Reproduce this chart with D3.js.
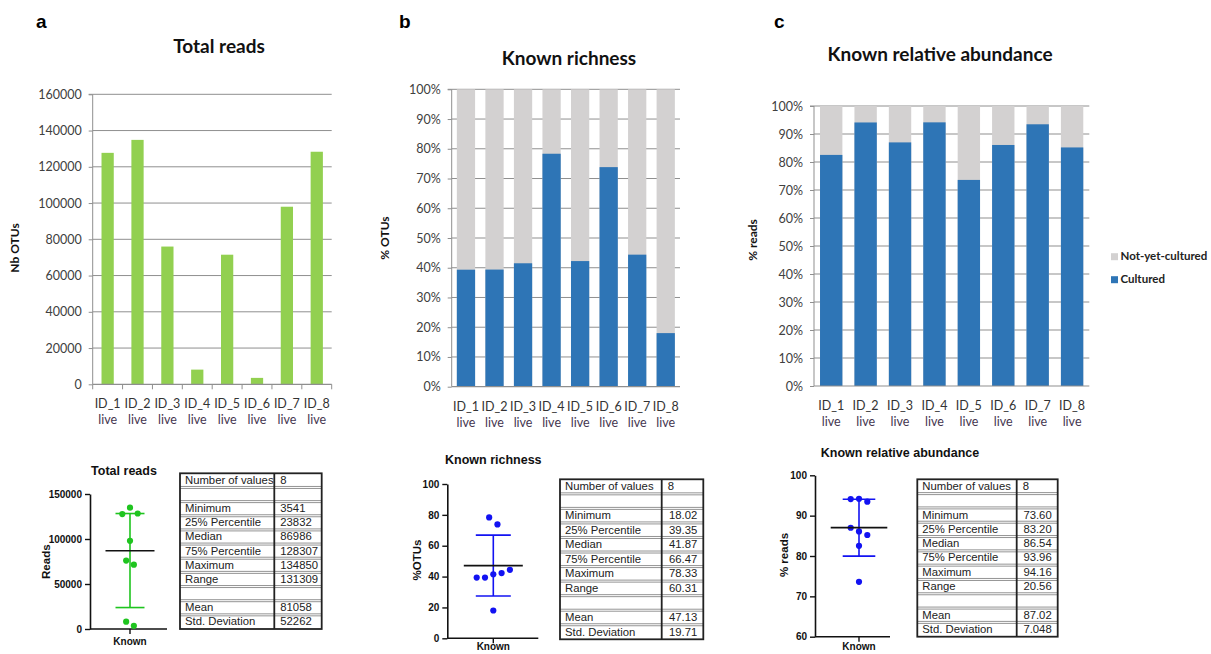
<!DOCTYPE html>
<html><head><meta charset="utf-8">
<script src="https://cdn.jsdelivr.net/npm/d3@7"></script>
<style>body{margin:0;background:#fff}svg{display:block}</style>
</head><body>
<svg id="fig" width="1211" height="654"></svg>
<script>
// ---------------- data ----------------
const categories = ["ID_1","ID_2","ID_3","ID_4","ID_5","ID_6","ID_7","ID_8"];
const subLabel = "live";
const totalReads = [127700,134850,76000,8100,71500,3541,97972,128307];
const richnessCultured = [39.34,39.38,41.5,78.33,42.24,73.83,44.4,18.02];
const abundanceCultured = [82.53,94.12,87.0,94.16,73.60,86.08,93.47,85.2];
const readsTicks = [0,20000,40000,60000,80000,100000,120000,140000,160000];
const pctTicks = [0,10,20,30,40,50,60,70,80,90,100];
const legendLabels = ["Not-yet-cultured","Cultured"];
const panelLetters = ["a","b","c"];
const topTitles = ["Total reads","Known richness","Known relative abundance"];
const topYLabels = ["Nb OTUs","% OTUs","% reads"];
const dotTitles = ["Total reads","Known richness","Known relative abundance"];
const dotYLabels = ["Reads","%OTUs","% reads"];
const dotCategory = "Known";
const dotTicksA = [0,50000,100000,150000];
const dotTicksB = [0,20,40,60,80,100];
const dotTicksC = [60,70,80,90,100];
// centre line and error bar ends (a: median + interquartile range; b, c: mean ± SD)
const summaryA = [86986, 23832, 128307];
const summaryB = [47.13, 47.13-19.71, 47.13+19.71];
const summaryC = [87.02, 87.02-7.048, 87.02+7.048];
const statLabels = ["Number of values","","Minimum","25% Percentile","Median","75% Percentile","Maximum","Range","","Mean","Std. Deviation"];
const statsA = ["8","","3541","23832","86986","128307","134850","131309","","81058","52262"];
const statsB = ["8","","18.02","39.35","41.87","66.47","78.33","60.31","","47.13","19.71"];
const statsC = ["8","","73.60","83.20","86.54","93.96","94.16","20.56","","87.02","7.048"];

// ---------------- styles ----------------
const GREEN = "#92d050", BLUE = "#2e75b6", GREY = "#d3d1d1", GRID = "#8f8f8f";
const DOT_GREEN = "#1fc41f", DOT_BLUE = "#1212f2";
const TITLE_FONT = "Lato, 'Open Sans', sans-serif";
const ARIAL = "'Liberation Sans', Arial, sans-serif";

const svg = d3.select("#fig");

// panel letters
const letterPos = [[36,28],[399,28],[774,28]];
panelLetters.forEach((l,i)=>{
  svg.append("text").attr("x",letterPos[i][0]).attr("y",letterPos[i][1])
    .attr("font-family",ARIAL).attr("font-weight","bold").attr("font-size",19).attr("fill","#000").text(l);
});

// ---------------- top bar charts ----------------
function barChart(cfg){
  const g = svg.append("g");
  const x = d3.scaleBand().domain(categories).range([cfg.left,cfg.right]).padding(0);
  const y = d3.scaleLinear().domain([0,cfg.max]).range([cfg.bottom,cfg.top]);
  g.selectAll(".grid").data(cfg.ticks.filter(t=>t>0)).join("line")
    .attr("x1",cfg.left).attr("x2",cfg.right).attr("y1",d=>y(d)).attr("y2",d=>y(d))
    .attr("stroke",GRID).attr("stroke-width",1);
  const ax = g.append("g").attr("transform",`translate(${cfg.left},0)`)
    .call(d3.axisLeft(y).tickValues(cfg.ticks).tickSize(4).tickPadding(7).tickFormat(cfg.fmt));
  ax.select(".domain").attr("stroke",GRID).attr("d",`M-4,${cfg.top}H0V${cfg.bottom}`);
  ax.selectAll(".tick line").attr("stroke",GRID);
  ax.selectAll(".tick text").attr("font-family",TITLE_FONT).attr("font-size",12.5).attr("fill","#404040");
  const bw = x.bandwidth()*cfg.barFrac;
  if (cfg.stacked){
    g.selectAll(".bg").data(cfg.values).join("rect")
      .attr("x",(d,i)=>x(categories[i])+(x.bandwidth()-bw)/2).attr("width",bw)
      .attr("y",y(cfg.max)).attr("height",y(0)-y(cfg.max)).attr("fill",GREY);
  }
  g.selectAll(".bar").data(cfg.values).join("rect")
    .attr("x",(d,i)=>x(categories[i])+(x.bandwidth()-bw)/2).attr("width",bw)
    .attr("y",d=>y(d)).attr("height",d=>y(0)-y(d)).attr("fill",cfg.color);
  g.append("line").attr("x1",cfg.left).attr("x2",cfg.right).attr("y1",cfg.bottom).attr("y2",cfg.bottom)
    .attr("stroke",GRID).attr("stroke-width",1.2);
  if (cfg.bottomTicks){
    const bounds = categories.map(c=>x(c)).concat([cfg.right]);
    g.selectAll(".bt").data(bounds).join("line")
      .attr("x1",d=>d).attr("x2",d=>d).attr("y1",cfg.bottom).attr("y2",cfg.bottom+5)
      .attr("stroke",GRID);
  }
  categories.forEach(c=>{
    const cx = x(c)+x.bandwidth()/2;
    g.append("text").attr("x",cx).attr("y",cfg.bottom+21).attr("text-anchor","middle")
      .attr("dominant-baseline","middle").attr("font-family",TITLE_FONT).attr("font-size",12.5)
      .attr("fill","#333").text(c);
    g.append("text").attr("x",cx).attr("y",cfg.bottom+37).attr("text-anchor","middle")
      .attr("dominant-baseline","middle").attr("font-family",TITLE_FONT).attr("font-size",12.5)
      .attr("fill","#45364f").text(subLabel);
  });
  g.append("text").attr("x",cfg.titleX).attr("y",cfg.titleY).attr("text-anchor","middle")
    .attr("dominant-baseline","middle").attr("font-family",TITLE_FONT).attr("font-weight","bold")
    .attr("font-size",19).attr("fill","#111").text(cfg.title);
  g.append("text").attr("transform",`translate(${cfg.ylabX},${cfg.ylabY}) rotate(-90)`)
    .attr("text-anchor","middle").attr("dominant-baseline","middle").attr("font-family",TITLE_FONT)
    .attr("font-weight","bold").attr("font-size",12).attr("fill","#111").text(cfg.ylabel);
  return {x,y};
}

barChart({left:92.7,right:331.7,top:94.3,bottom:384.3,max:160000,ticks:readsTicks,fmt:d=>d,
  values:totalReads,color:GREEN,barFrac:0.41,stacked:false,bottomTicks:true,
  title:topTitles[0],titleX:219,titleY:48,ylabel:topYLabels[0],ylabX:16,ylabY:248});
barChart({left:451.7,right:680,top:89.3,bottom:386.7,max:100,ticks:pctTicks,fmt:d=>d+"%",
  values:richnessCultured,color:BLUE,barFrac:0.64,stacked:true,bottomTicks:false,
  title:topTitles[1],titleX:569,titleY:60,ylabel:topYLabels[1],ylabX:386,ylabY:238});
barChart({left:814,right:1089.3,top:106,bottom:386,max:100,ticks:pctTicks,fmt:d=>d+"%",
  values:abundanceCultured,color:BLUE,barFrac:0.65,stacked:true,bottomTicks:false,
  title:topTitles[2],titleX:940,titleY:56,ylabel:topYLabels[2],ylabX:754,ylabY:240});

// legend (panel c)
const legColors = [GREY, BLUE];
legendLabels.forEach((l,i)=>{
  const cy = 256.7 + i*23;
  svg.append("rect").attr("x",1111).attr("y",cy-3.5).attr("width",7).attr("height",7).attr("fill",legColors[i]);
  svg.append("text").attr("x",1120.5).attr("y",cy).attr("dominant-baseline","middle")
    .attr("font-family",TITLE_FONT).attr("font-weight","bold").attr("font-size",11.5).attr("fill","#222").text(l);
});

// ---------------- dot plots ----------------
function dotPlot(cfg){
  const g = svg.append("g");
  const y = d3.scaleLinear().domain([cfg.ticks[0],cfg.ticks[cfg.ticks.length-1]]).range([cfg.bottom,cfg.top]);
  const ax = g.append("g").attr("transform",`translate(${cfg.axisX},0)`)
    .call(d3.axisLeft(y).tickValues(cfg.ticks).tickSize(5).tickPadding(3).tickSizeOuter(0).tickFormat(d=>d));
  ax.select(".domain").attr("stroke","#111").attr("stroke-width",1.6);
  ax.selectAll(".tick line").attr("stroke","#111").attr("stroke-width",1.4);
  ax.selectAll(".tick text").attr("font-family",ARIAL).attr("font-weight","bold").attr("font-size",10).attr("fill","#111");
  g.append("line").attr("x1",cfg.axisX).attr("x2",cfg.axisRight).attr("y1",cfg.bottom).attr("y2",cfg.bottom)
    .attr("stroke","#111").attr("stroke-width",1.6);
  g.append("line").attr("x1",cfg.cx).attr("x2",cfg.cx).attr("y1",cfg.bottom).attr("y2",cfg.bottom+5)
    .attr("stroke","#111").attr("stroke-width",1.4);
  g.append("text").attr("x",cfg.cx).attr("y",Math.min(cfg.bottom+13,647.5)).attr("text-anchor","middle")
    .attr("dominant-baseline","middle").attr("font-family",ARIAL).attr("font-weight","bold")
    .attr("font-size",10).attr("fill","#111").text(dotCategory);
  const [c,lo,hi] = cfg.summary;
  g.append("line").attr("x1",cfg.cx).attr("x2",cfg.cx).attr("y1",y(lo)).attr("y2",y(hi))
    .attr("stroke",cfg.color).attr("stroke-width",1.6);
  [lo,hi].forEach(v=>g.append("line").attr("x1",cfg.cx-cfg.capHalf).attr("x2",cfg.cx+cfg.capHalf)
    .attr("y1",y(v)).attr("y2",y(v)).attr("stroke",cfg.color).attr("stroke-width",1.6));
  // beeswarm-like placement: cluster points that overlap vertically, centre each row
  const pts = cfg.values.map((v,i)=>({v,i,py:y(v)}));
  const sorted = pts.slice().sort((a,b)=>a.py-b.py);
  const clusters = [];
  sorted.forEach(p=>{
    const last = clusters[clusters.length-1];
    if (last && p.py - last[last.length-1].py < 7.5) last.push(p); else clusters.push([p]);
  });
  clusters.forEach(cl=>{
    cl.sort((a,b)=>a.i-b.i);
    cl.forEach((p,k)=>{ p.px = cfg.cx + (k-(cl.length-1)/2)*cfg.step; });
  });
  g.selectAll(".dot").data(pts).join("circle")
    .attr("cx",d=>d.px).attr("cy",d=>d.py).attr("r",3.1).attr("fill",cfg.color);
  g.append("line").attr("x1",cfg.cx-cfg.lineHalf).attr("x2",cfg.cx+cfg.lineHalf)
    .attr("y1",y(c)).attr("y2",y(c)).attr("stroke","#111").attr("stroke-width",1.6);
  g.append("text").attr("x",cfg.titleX).attr("y",cfg.titleY).attr("text-anchor","middle")
    .attr("dominant-baseline","middle").attr("font-family",ARIAL).attr("font-weight","bold")
    .attr("font-size",12.5).attr("fill","#111").text(cfg.title);
  g.append("text").attr("transform",`translate(${cfg.ylabX},${cfg.ylabY}) rotate(-90)`)
    .attr("text-anchor","middle").attr("dominant-baseline","middle").attr("font-family",ARIAL)
    .attr("font-weight","bold").attr("font-size",11.5).attr("fill","#111").text(cfg.ylabel);
}

dotPlot({values:totalReads,ticks:dotTicksA,summary:summaryA,color:DOT_GREEN,
  axisX:90,axisRight:167,cx:130,top:494,bottom:629,lineHalf:24.5,capHalf:14.5,step:7.7,
  title:dotTitles[0],titleX:124,titleY:471.7,ylabel:dotYLabels[0],ylabX:46.7,ylabY:561.7});
dotPlot({values:richnessCultured,ticks:dotTicksB,summary:summaryB,color:DOT_BLUE,
  axisX:447.3,axisRight:538.3,cx:493.3,top:484,bottom:638.3,lineHalf:29.5,capHalf:17.5,step:8.3,
  title:dotTitles[1],titleX:493.3,titleY:461,ylabel:dotYLabels[1],ylabX:418.3,ylabY:560});
dotPlot({values:abundanceCultured,ticks:dotTicksC,summary:summaryC,color:DOT_BLUE,
  axisX:815,axisRight:890,cx:859,top:475.3,bottom:636.7,lineHalf:28.3,capHalf:16.3,step:8.3,
  title:dotTitles[2],titleX:900,titleY:454,ylabel:dotYLabels[2],ylabX:785,ylabY:555});

// ---------------- stats tables ----------------
function statTable(cfg){
  const g = svg.append("g");
  const rows = d3.scaleBand().domain(d3.range(statLabels.length)).range([cfg.top,cfg.bottom]);
  const rh = rows.bandwidth();
  d3.range(1,statLabels.length).forEach(r=>{
    const yy = rows(r);
    [-1,1].forEach(o=>g.append("line").attr("x1",cfg.left).attr("x2",cfg.right)
      .attr("y1",yy+o).attr("y2",yy+o).attr("stroke","#666").attr("stroke-width",0.7));
  });
  g.append("rect").attr("x",cfg.left).attr("y",cfg.top).attr("width",cfg.right-cfg.left)
    .attr("height",cfg.bottom-cfg.top).attr("fill","none").attr("stroke","#222").attr("stroke-width",1.8);
  g.append("line").attr("x1",cfg.div).attr("x2",cfg.div).attr("y1",cfg.top).attr("y2",cfg.bottom)
    .attr("stroke","#222").attr("stroke-width",1.8);
  statLabels.forEach((l,r)=>{
    const cy = rows(r)+rh/2+0.5;
    g.append("text").attr("x",cfg.left+5).attr("y",cy).attr("dominant-baseline","middle")
      .attr("font-family",ARIAL).attr("font-size",11.3).attr("fill","#222").text(l);
    const v = cfg.values[r];
    const right = cfg.rightAlign && r>0;
    g.append("text").attr("x",right?cfg.right-6:cfg.div+6).attr("y",cy).attr("dominant-baseline","middle")
      .attr("text-anchor",right?"end":"start")
      .attr("font-family",ARIAL).attr("font-size",11.3).attr("fill","#222").text(v);
  });
}
statTable({values:statsA,left:180,div:274.3,right:321.7,top:473.3,bottom:629,rightAlign:false});
statTable({values:statsB,left:560,div:661.7,right:703.3,top:479.3,bottom:639.3,rightAlign:true});
statTable({values:statsC,left:917.3,div:1016.7,right:1057.7,top:479.3,bottom:636.7,rightAlign:true});
</script>
</body></html>
